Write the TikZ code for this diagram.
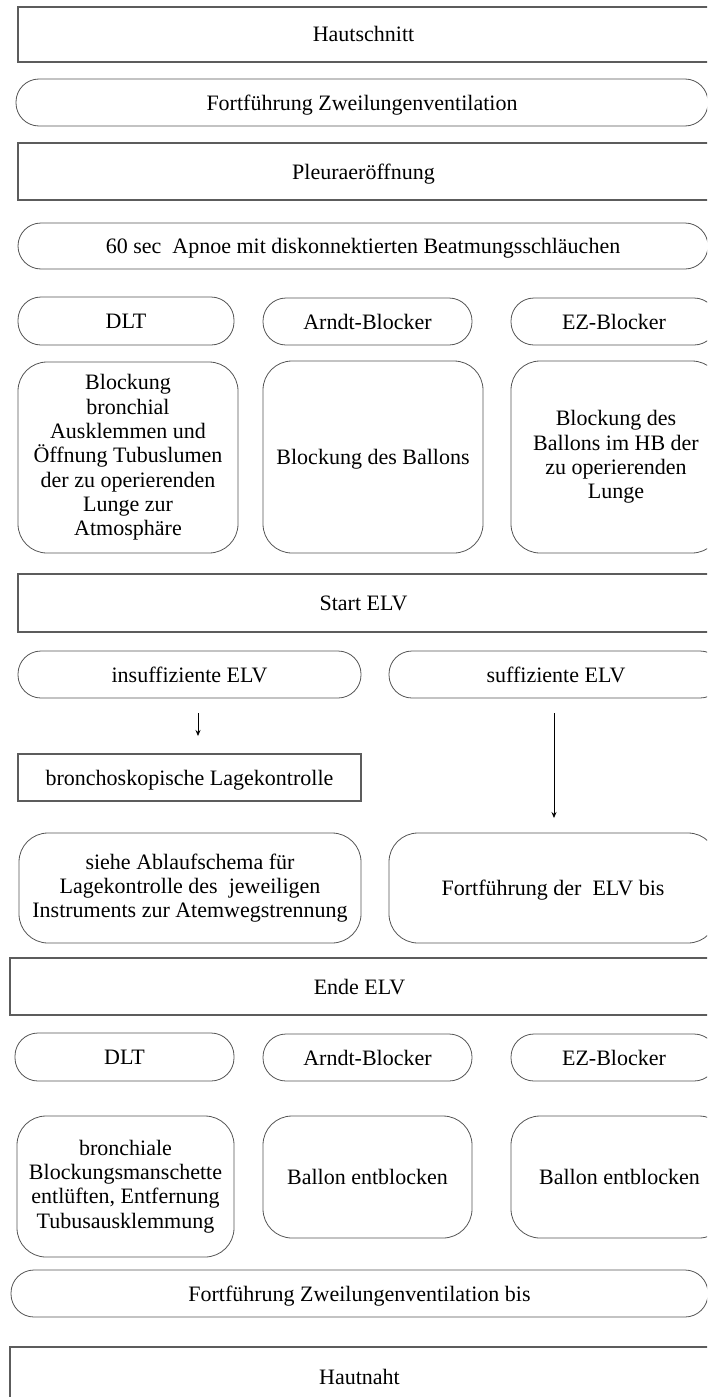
\documentclass[tikz,border=0pt]{standalone}
\usepackage{fontspec}
\setmainfont{Liberation Serif}
\usetikzlibrary{arrows.meta}
\definecolor{framegray}{RGB}{92,92,92}
\definecolor{linegray}{RGB}{85,85,85}
\begin{document}
\begin{tikzpicture}[x=1pt,y=-1pt,
  every node/.style={font=\fontsize{22}{24.3}\selectfont, inner sep=0pt, outer sep=0pt, align=center},
  oneline/.style={text height=19pt, text depth=4pt},
  frame/.style={draw=framegray, line width=1.5pt, oneline},
  pill/.style={draw=linegray, line width=0.8pt, rounded corners=23pt, oneline},
  card/.style={draw=linegray, line width=0.8pt, rounded corners=29pt},
  flow/.style={draw=black, line width=0.8pt, -{Stealth[length=6pt,width=5pt]}},
]
\useasboundingbox (0,0) rectangle (707,1397);
\clip (0,0) rectangle (707,1397);

% opening
\node[frame, minimum width=691pt, minimum height=55pt] (cut)    at (363.5,34.5) {Hautschnitt};
\node[pill,  minimum width=692pt, minimum height=47pt] (tlv1)   at (362,102.5)  {Fortführung Zweilungenventilation};
\node[frame, minimum width=691pt, minimum height=57pt] (pleura) at (363.5,171.5) {Pleuraeröffnung};
\node[pill,  minimum width=690pt, minimum height=46pt] (apnoe)  at (363,246)    {60 sec\ \ Apnoe mit diskonnektierten Beatmungsschläuchen};

% devices, start of one-lung ventilation
\node[pill, minimum width=216pt, minimum height=48pt] (dltA)   at (126,321)    {DLT};
\node[pill, minimum width=209pt, minimum height=47pt] (arndtA) at (367.5,321.5) {Arndt-Blocker};
\node[pill, minimum width=206pt, minimum height=47pt] (ezA)    at (614,321.5)  {EZ-Blocker};

\node[card, minimum width=220pt, minimum height=191pt] (dltB)   at (128,457.5) {Blockung\\bronchial\\Ausklemmen und\\Öffnung Tubuslumen\\der zu operierenden\\Lunge zur\\Atmosphäre};
\node[card, oneline, minimum width=220pt, minimum height=192pt] (arndtB) at (373,457) {Blockung des Ballons};
\node[card, minimum width=210pt, minimum height=192pt] (ezB)    at (616,457)   {Blockung des\\Ballons im HB der\\zu operierenden\\Lunge};

\node[frame, minimum width=691pt, minimum height=58pt] (start) at (363.5,603) {Start ELV};

% branches
\node[pill, minimum width=343pt, minimum height=47pt] (insuff) at (189.5,674.5) {insuffiziente ELV};
\node[pill, minimum width=334pt, minimum height=47pt] (suff)   at (556,674.5)   {suffiziente ELV};

\node[frame, minimum width=343pt, minimum height=47pt] (bronch) at (189.5,777.5) {bronchoskopische Lagekontrolle};

\node[card, minimum width=342pt, minimum height=110pt] (siehe)  at (190,888) {siehe Ablaufschema für\\Lagekontrolle des\ \ jeweiligen\\Instruments zur Atemwegstrennung};
\node[card, oneline, minimum width=328pt, minimum height=110pt] (elvbis) at (553,888) {Fortführung der\ \ ELV bis};

\draw[flow, shorten <=15pt, shorten >=18pt] ([xshift=8.5pt]insuff.south) -- ([xshift=8.5pt]insuff.south |- bronch.north);
\draw[flow, shorten <=15pt, shorten >=15pt] ([xshift=-2pt]suff.south) -- ([xshift=-2pt]suff.south |- elvbis.north);

% end of one-lung ventilation
\node[frame, minimum width=699pt, minimum height=57pt] (ende) at (359.5,986.5) {Ende ELV};

\node[pill, minimum width=219pt, minimum height=48pt] (dltC)   at (124.5,1057)  {DLT};
\node[pill, minimum width=209pt, minimum height=47pt] (arndtC) at (367.5,1057.5) {Arndt-Blocker};
\node[pill, minimum width=206pt, minimum height=47pt] (ezC)    at (614,1057.5)  {EZ-Blocker};

\node[card, minimum width=217pt, minimum height=141pt] (deflate) at (125.5,1186.5) {bronchiale\\Blockungsmanschette\\entlüften, Entfernung\\Tubusausklemmung};
\node[card, oneline, minimum width=209pt, minimum height=122pt] (ballonA) at (367.5,1177) {Ballon entblocken};
\node[card, oneline, minimum width=217pt, minimum height=122pt] (ballonB) at (619.5,1177) {Ballon entblocken};

% closing
\node[pill,  minimum width=697pt, minimum height=47pt] (tlv2)   at (359.5,1293.5) {Fortführung Zweilungenventilation bis};
\node[frame, minimum width=699pt, minimum height=60pt] (suture) at (359.5,1377)   {Hautnaht};
\end{tikzpicture}
\end{document}
